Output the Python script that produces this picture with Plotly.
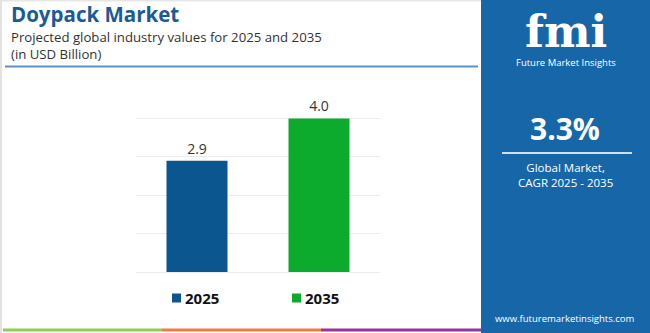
import plotly.graph_objects as go

years = ["2025", "2035"]
values = [2.9, 4.0]
labels = ["2.9", "4.0"]
colors = ["#0b568f", "#0caa2d"]

W, H = 650, 333
L, R, T, B = 136, 270, 80, 61
PW, PH = W - L - R, H - T - B

def px(x):
    return (x - L) / PW

def py(y):
    return 1 - (y - T) / PH

fig = go.Figure()
for yr, v, lab, c in zip(years, values, labels, colors):
    fig.add_trace(go.Bar(
        x=[yr], y=[v], name=yr, marker=dict(color=c, line=dict(width=0)),
        width=0.5, text=[lab], textposition="outside",
        textfont=dict(family="Open Sans", size=14, color="#333333"),
        cliponaxis=False, showlegend=False,
    ))

shapes = []
# right blue panel
shapes.append(dict(type="rect", xref="paper", yref="paper", x0=px(481), x1=px(651), y0=py(0), y1=py(334),
                   fillcolor="#1767a8", line=dict(width=0), layer="below"))
# left border
shapes.append(dict(type="rect", xref="paper", yref="paper", x0=px(0), x1=px(2), y0=py(0), y1=py(333),
                   fillcolor="#e2e2e2", line=dict(width=0), layer="below"))
# top border
shapes.append(dict(type="rect", xref="paper", yref="paper", x0=px(0), x1=px(481), y0=py(0), y1=py(1.5),
                   fillcolor="#e6e6e6", line=dict(width=0), layer="below"))
# header line
shapes.append(dict(type="line", xref="paper", yref="paper", x0=px(5), x1=px(478), y0=py(66.5), y1=py(66.5),
                   line=dict(color="#5b93c4", width=2)))
# bottom colour lines
for x0, x1, c in [(3, 162, "#8fcf56"), (162, 321, "#f07a4a"), (321, 481, "#8e3b96")]:
    shapes.append(dict(type="line", xref="paper", yref="paper", x0=px(x0), x1=px(x1), y0=py(330), y1=py(330),
                       line=dict(color=c, width=3)))
# CAGR divider line
shapes.append(dict(type="line", xref="paper", yref="paper", x0=px(502), x1=px(632), y0=py(153), y1=py(153),
                   line=dict(color="#cfe0f0", width=2)))

ann = []
def text(x, y, s, size, color, family="Open Sans", xanchor="left", yanchor="middle"):
    ann.append(dict(xref="paper", yref="paper", x=px(x), y=py(y), text=s, showarrow=False,
                    font=dict(family=family, size=size, color=color), xanchor=xanchor, yanchor=yanchor))

# custom legend
legend_x = [172, 292]
for yr, c, lx in zip(years, colors, legend_x):
    shapes.append(dict(type="rect", xref="paper", yref="paper", x0=px(lx), x1=px(lx + 9),
                       y0=py(302.5), y1=py(293.5), fillcolor=c, line=dict(width=0)))
    text(lx + 11, 298, "<b>" + yr + "</b>", 15, "#111111")

text(9, 14, "<b>Doypack Market</b>", 20.5, "#1b5b95")
text(9, 37, "Projected global industry values for 2025 and 2035", 13.2, "#333333")
text(9, 54, "(in USD Billion)", 13.2, "#333333")
text(566, 31, "<b>fmi</b>", 44, "#ffffff", family="DejaVu Serif", xanchor="center")
text(566, 62, "Future Market Insights", 9.5, "#ffffff", xanchor="center")
text(565, 128, "<b>3.3%</b>", 30, "#ffffff", xanchor="center")
text(565, 175, "Global Market,<br>CAGR 2025 - 2035", 11.5, "#ffffff", xanchor="center")
text(565, 318, "www.futuremarketinsights.com", 9.5, "#ffffff", xanchor="center")

fig.update_layout(
    width=W, height=H, margin=dict(l=L, r=R, t=T, b=B),
    paper_bgcolor="#ffffff", plot_bgcolor="#ffffff",
    barmode="overlay", bargap=0.5,
    showlegend=False,
    shapes=shapes, annotations=ann,
    xaxis=dict(showgrid=False, showticklabels=False, zeroline=False, showline=False, fixedrange=True),
    yaxis=dict(range=[0, 5], dtick=1, showgrid=True, gridcolor="#ececec", gridwidth=1,
               showticklabels=False, zeroline=True, zerolinecolor="#ececec", zerolinewidth=1, showline=False),
)

fig.write_html("out.html")
